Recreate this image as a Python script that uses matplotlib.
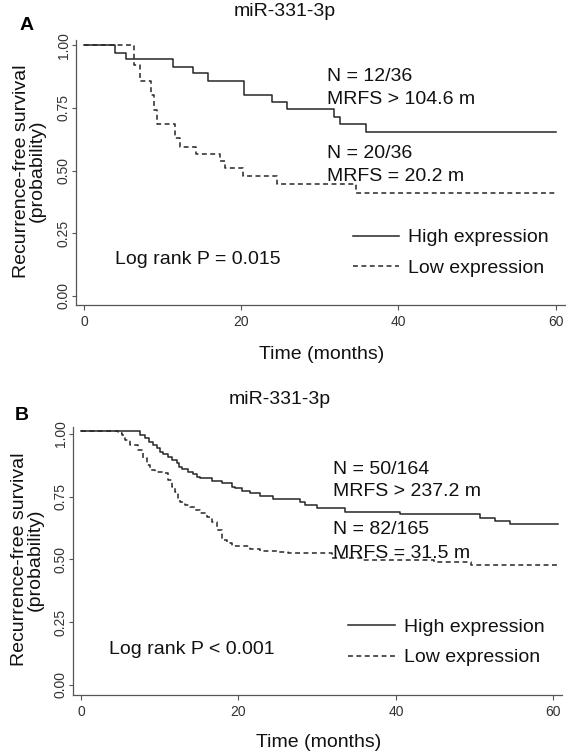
import matplotlib
matplotlib.use("Agg")
import matplotlib.pyplot as plt

plt.rcParams['font.family'] = ['Liberation Sans', 'DejaVu Sans']

# panel A: 36 patients
time_high_a = [0, 3.94, 5.30, 11.36, 13.82, 15.81, 20.35, 23.91, 25.78, 31.8, 32.56, 35.87, 60]
surv_high_a = [1.0, 0.970, 0.944, 0.915, 0.888, 0.859, 0.802, 0.775, 0.746, 0.715, 0.685, 0.655, 0.655]
time_low_a = [0, 6.36, 7.12, 8.5, 8.9, 9.33, 11.57, 12.2, 14.25, 17.3, 17.9, 20.27, 24.6, 34.55, 60]
surv_low_a = [1.0, 0.921, 0.859, 0.80, 0.742, 0.685, 0.629, 0.596, 0.566, 0.537, 0.509, 0.479, 0.447, 0.412, 0.412]

# panel B: larger cohort
time_high_b = [0, 7.5, 8.13, 8.6, 9.19, 9.6, 10.04, 10.46, 11.0, 11.52, 12.16, 12.5, 12.79, 13.64, 14.27,
               14.7, 15.12, 16.6, 17.88, 19.15, 19.57, 20.4, 21.47, 22.74, 24.44, 27.83, 28.46, 29.95,
               33.55, 40.5, 50.7, 52.6, 54.5, 60.6]
surv_high_b = [1.012, 0.996, 0.983, 0.970, 0.956, 0.943, 0.930, 0.920, 0.910, 0.897, 0.883, 0.870, 0.862,
               0.850, 0.840, 0.830, 0.823, 0.813, 0.803, 0.790, 0.783, 0.773, 0.763, 0.754, 0.741, 0.728,
               0.717, 0.704, 0.688, 0.680, 0.667, 0.654, 0.642, 0.642]
time_low_b = [0, 4.66, 5.2, 5.59, 6.23, 7.28, 7.92, 8.34, 8.77, 9.40, 10.46, 11.1, 11.52, 11.94, 12.37,
              12.58, 13.21, 13.85, 14.49, 15.12, 15.97, 16.6, 17.24, 17.88, 18.51, 19.15, 21.47, 22.74,
              25.07, 26.35, 31.85, 35.88, 44.8, 49.6, 60.6]
surv_low_b = [1.012, 1.004, 0.996, 0.976, 0.956, 0.936, 0.903, 0.876, 0.857, 0.850, 0.843, 0.817, 0.790,
              0.770, 0.737, 0.730, 0.717, 0.710, 0.697, 0.684, 0.671, 0.651, 0.618, 0.578, 0.564, 0.555,
              0.542, 0.534, 0.531, 0.525, 0.505, 0.496, 0.489, 0.478, 0.478]

yticks = [0, 0.25, 0.5, 0.75, 1.0]
ytick_labels = ['0.00', '0.25', '0.50', '0.75', '1.00']
xticks = [0, 20, 40, 60]

text_a = ['N = 12/36', 'MRFS > 104.6 m', 'N = 20/36', 'MRFS = 20.2 m', 'Log rank P = 0.015']
text_b = ['N = 50/164', 'MRFS > 237.2 m', 'N = 82/165', 'MRFS = 31.5 m', 'Log rank P < 0.001']

line_col = '#262626'
axis_col = '#555555'
W, H = 566, 756

fig = plt.figure(figsize=(W / 100, H / 100), dpi=100)
ax_a = fig.add_axes([76 / W, 1 - 304.7 / H, (565 - 76) / W, (304.7 - 40) / H])
ax_b = fig.add_axes([72.7 / W, 1 - 694.7 / H, (562 - 72.7) / W, (694.7 - 427) / H])


def draw_panel(ax, th, sh, tl, sl, texts, text_x, text_y, logrank_xy, leg_xy, xlim, ylim, xlab_y, ylab_x):
    ax.step(th, sh, where='post', color=line_col, lw=1.1, label='High expression')
    ax.step(tl, sl, where='post', color=line_col, lw=1.1, linestyle=(0, (3.2, 2.3)),
            label='Low expression')
    ax.set_xlim(*xlim)
    ax.set_ylim(*ylim)
    for s in ['top', 'right']:
        ax.spines[s].set_visible(False)
    for s in ['left', 'bottom']:
        ax.spines[s].set_color(axis_col)
        ax.spines[s].set_linewidth(0.9)
    ax.set_xticks(xticks)
    ax.set_xticklabels([str(v) for v in xticks])
    ax.set_yticks(yticks)
    ax.set_yticklabels(ytick_labels, rotation=90, va='center')
    ax.tick_params(axis='x', length=3.8, pad=3.5, color=axis_col, labelcolor='#333333', labelsize=10)
    ax.tick_params(axis='y', length=3.1, pad=0.5, color=axis_col, labelcolor='#333333', labelsize=10)
    ax.set_xlabel('Time (months)', fontsize=14, va='center', color='#111111')
    ax.xaxis.set_label_coords(0.503, xlab_y)
    ax.set_ylabel('Recurrence-free survival\n(probability)', fontsize=14, va='center',
                  linespacing=0.9, color='#111111')
    ax.yaxis.set_label_coords(ylab_x, 0.505)
    for t, y in zip(texts[:4], text_y):
        ax.text(text_x, y, t, fontsize=14, va='center', ha='left', color='#111111')
    ax.text(logrank_xy[0], logrank_xy[1], texts[4], fontsize=14, va='center', ha='left', color='#111111')
    ax.legend(loc='center left', bbox_to_anchor=leg_xy, bbox_transform=ax.transData, frameon=False,
              fontsize=14, handlelength=2.38, handletextpad=0.47, labelspacing=0.65,
              borderpad=0, borderaxespad=0, labelcolor='#111111')


draw_panel(ax_a, time_high_a, surv_high_a, time_low_a, surv_low_a, text_a, 30.95,
           [0.874, 0.782, 0.568, 0.477], (3.94, 0.145), (34.2, 0.172),
           (-1.02, 61.2), (-0.035, 1.021), -0.19, -0.096)
draw_panel(ax_b, time_high_b, surv_high_b, time_low_b, surv_low_b, text_b, 32.0,
           [0.857, 0.770, 0.621, 0.525], (3.53, 0.143), (33.98, 0.169),
           (-1.05, 61.1), (-0.039, 1.028), -0.18, -0.093)

fig.text(285 / W, 1 - 11 / H, 'miR-331-3p', fontsize=14, ha='center', va='center', color='#111111')
fig.text(280 / W, 1 - 400 / H, 'miR-331-3p', fontsize=14, ha='center', va='center', color='#111111')
fig.text(27 / W, 1 - 25 / H, 'A', fontsize=14, fontweight='bold', ha='center', va='center')
fig.text(22 / W, 1 - 415 / H, 'B', fontsize=14, fontweight='bold', ha='center', va='center')

fig.savefig('out.png', dpi=100)
